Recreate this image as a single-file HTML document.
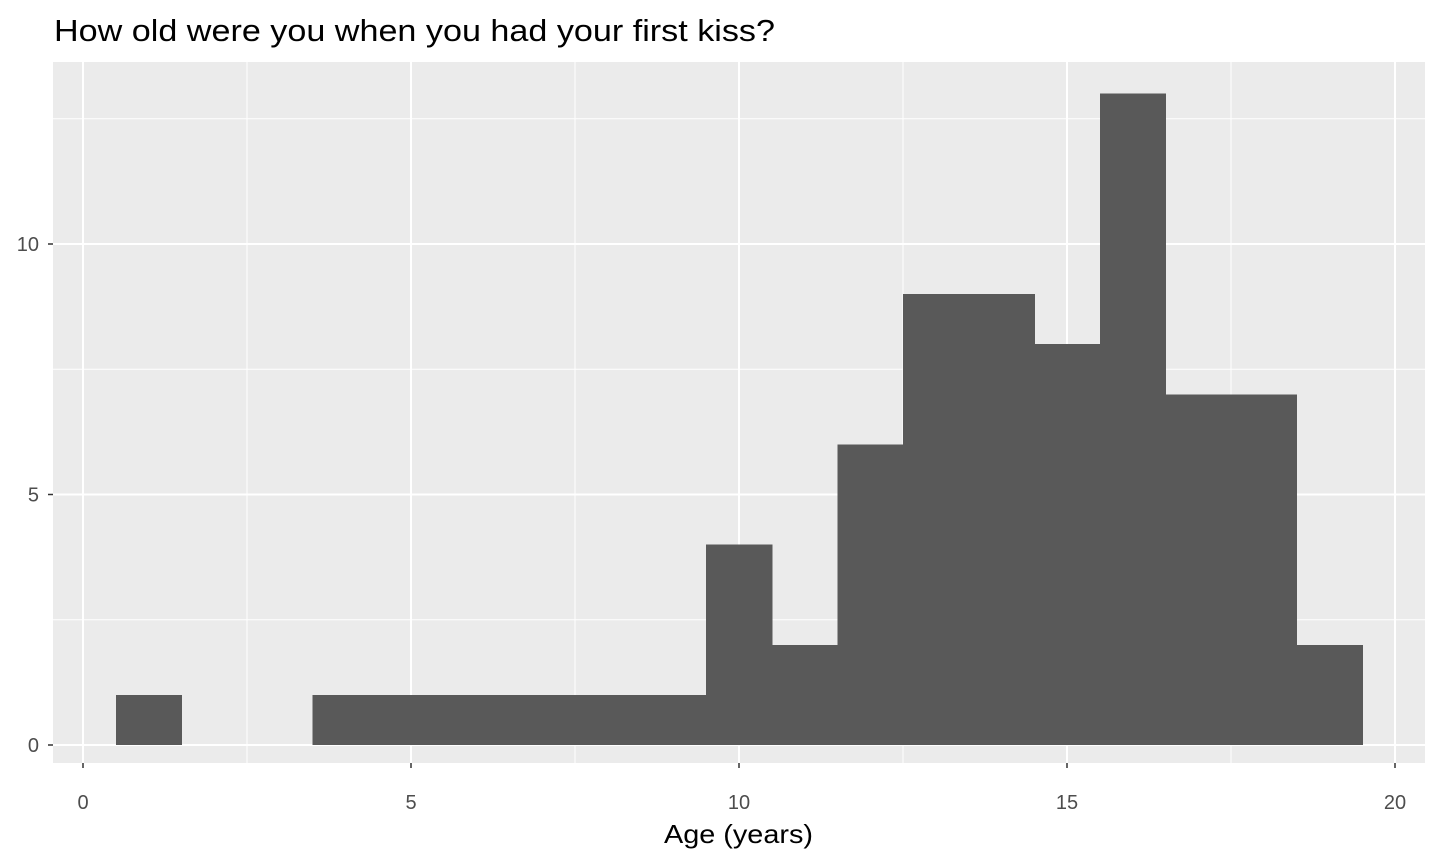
<!DOCTYPE html>
<html><head><meta charset="utf-8"><style>
html,body{margin:0;padding:0;background:#fff;}
svg{display:block;font-family:"Liberation Sans",Arial,sans-serif;}
</style></head><body>
<svg id="chart" width="1440" height="864">
<text x="54" y="41" font-size="31" textLength="721" lengthAdjust="spacingAndGlyphs" fill="#000">How old were you when you had your first kiss?</text>
<rect x="53" y="62" width="1372" height="701" fill="#EBEBEB"/>
<g id="grid"></g>
<g id="bars" shape-rendering="crispEdges"></g>
<g id="axes"></g>
<text x="664" y="843" font-size="26" textLength="149" lengthAdjust="spacingAndGlyphs" fill="#000">Age (years)</text>
</svg>
<script>
const binCenters=[1,2,3,4,5,6,7,8,9,10,11,12,13,14,15,16,17,18,19];
const counts=[1,0,0,1,1,1,1,1,1,4,2,6,9,9,8,13,7,7,2];
const xTicks=[0,5,10,15,20];
const yTicks=[0,5,10];
const xMinor=[2.5,7.5,12.5,17.5];
const yMinor=[2.5,7.5,12.5];
const binWidth=1;
const ns="http://www.w3.org/2000/svg";
const X=v=>83+v*65.6;
const Y=v=>745-v*50.1;
const L=53,R=1425,T=62,B=763;
function mk(tag,attrs,parent){const e=document.createElementNS(ns,tag);for(const k in attrs)e.setAttribute(k,attrs[k]);document.getElementById(parent).appendChild(e);return e;}
xMinor.forEach(v=>{const e=mk('line',{x1:X(v),x2:X(v),y1:T,y2:B,stroke:'#fff','stroke-width':1},'grid');

});
yMinor.forEach(v=>{const e=mk('line',{x1:L,x2:R,y1:Y(v),y2:Y(v),stroke:'#fff','stroke-width':1},'grid');

});
xTicks.forEach(v=>{const e=mk('line',{x1:X(v),x2:X(v),y1:T,y2:B,stroke:'#fff','stroke-width':2},'grid');


const t=mk('line',{x1:X(v),x2:X(v),y1:B,y2:B+5,stroke:'#333','stroke-width':1.5},'axes');


const l=mk('text',{x:X(v),y:B+46,'font-size':20,'text-anchor':'middle',fill:'#4D4D4D'},'axes');l.textContent=v;

});
yTicks.forEach(v=>{const e=mk('line',{x1:L,x2:R,y1:Y(v),y2:Y(v),stroke:'#fff','stroke-width':2},'grid');


const t=mk('line',{x1:L-5,x2:L,y1:Y(v),y2:Y(v),stroke:'#333','stroke-width':1.5},'axes');


const l=mk('text',{x:L-14,y:Y(v)+7,'font-size':20,'text-anchor':'end',fill:'#4D4D4D'},'axes');l.textContent=v;

});
binCenters.forEach((c,i)=>{if(counts[i]<=0)return;
const x0=X(c-binWidth/2),x1=X(c+binWidth/2);
const b=mk('rect',{x:x0,y:Y(counts[i]),width:x1-x0+0.6,height:Y(0)-Y(counts[i]),fill:'#595959'},'bars');

});
</script>
</body></html>
